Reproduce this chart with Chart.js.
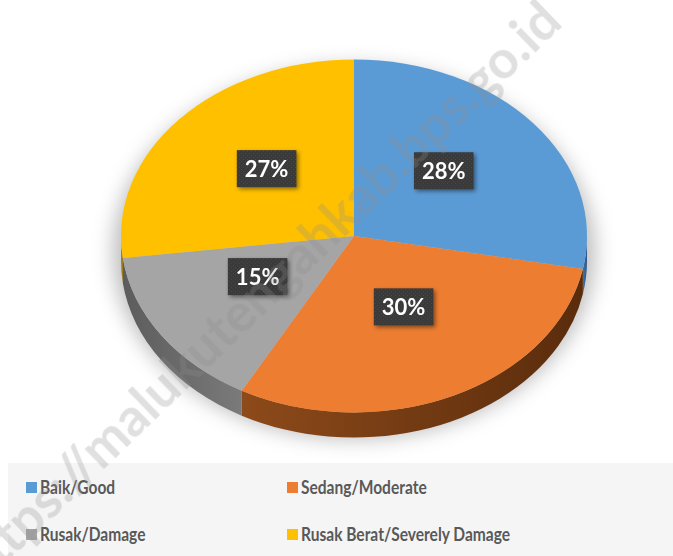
<!DOCTYPE html>
<html>
<head>
<meta charset="utf-8">
<script src="https://cdn.jsdelivr.net/npm/chart.js@4.4.1/dist/chart.umd.min.js"></script>
<style>
  html, body { margin: 0; padding: 0; background: #ffffff; }
  #wrap { position: relative; width: 673px; height: 556px; overflow: hidden; }
  #legend {
    position: absolute; left: 8px; top: 463px; width: 665px; height: 93px;
    background: #f5f5f5;
    font-family: Lato, "Open Sans", sans-serif; font-weight: 700; font-size: 18.5px; color: #595959;
  }
  .item { position: absolute; white-space: nowrap; line-height: 22px; }
  .item i { display: inline-block; width: 11px; height: 11px; margin-right: 3px; vertical-align: 1px; }
  .item span { display: inline-block; transform: scaleX(0.84); transform-origin: 0 50%; }
  #mark {
    position: absolute; left: 258px; top: 292px; white-space: nowrap; pointer-events: none;
    transform: translate(-50%, -50%) rotate(-44deg);
    font-family: Lato, sans-serif; font-weight: 700; font-size: 53px; color: rgba(140,140,140,0.27);
  }
</style>
</head>
<body>
<div id="wrap">
  <canvas id="myChart" width="673" height="556"></canvas>
  <div id="legend"></div>
  <div id="mark">https://malukutengahkab.bps.go.id</div>
</div>
<script>
const labels = ['Baik/Good', 'Sedang/Moderate', 'Rusak/Damage', 'Rusak Berat/Severely Damage'];
const values = [28, 30, 15, 27];
const colors = ['#5b9bd5', '#ed7d31', '#a5a5a5', '#ffc000'];
const sideLight = ['#3f74a6', '#8d4a1a', '#7a7a7a', '#b58a00'];
const sideDark = ['#2c5682', '#5a2c0c', '#5c5c5c', '#8a6900'];

const tilt = 0.7575;   // vertical squash of the pie
const depth = 25;      // thickness of the pie in px

// legend as html, two columns
const legendPos = [[18, 13], [279, 13], [18, 60], [279, 60]];
const legendEl = document.getElementById('legend');
labels.forEach((l, i) => {
    const d = document.createElement('div');
    d.className = 'item';
    d.style.left = legendPos[i][0] + 'px';
    d.style.top = legendPos[i][1] + 'px';
    d.innerHTML = '<i style="background:' + colors[i] + '"></i><span>' + l + '</span>';
    legendEl.appendChild(d);
});

// dotted dark fill for the value boxes
const pat = document.createElement('canvas');
pat.width = 4; pat.height = 4;
const pctx = pat.getContext('2d');
pctx.fillStyle = '#3a3a3a'; pctx.fillRect(0, 0, 4, 4);
pctx.fillStyle = '#474747'; pctx.fillRect(1, 1, 1, 1); pctx.fillRect(3, 3, 1, 1);

const pie3d = {
    id: 'pie3d',
    beforeDatasetsDraw(chart) {
        const ctx = chart.ctx;
        const arcs = chart.getDatasetMeta(0).data;
        const cx = arcs[0].x, cy = arcs[0].y, R = arcs[0].outerRadius, r = R * tilt;

        // soft shadow
        ctx.save();
        ctx.filter = 'blur(10px)';
        ctx.fillStyle = 'rgba(0,0,0,0.26)';
        ctx.beginPath();
        ctx.ellipse(cx, cy + depth / 2 + 4, R + 8, r + 10, 0, 0, Math.PI * 2);
        ctx.fill();
        ctx.restore();

        // side walls, only the front half shows
        arcs.forEach((a, i) => {
            let s = Math.max(a.startAngle, 0), e = Math.min(a.endAngle, Math.PI);
            if (a.startAngle > Math.PI) { s = Math.max(a.startAngle - 2 * Math.PI, 0); e = Math.min(a.endAngle - 2 * Math.PI, Math.PI); }
            if (e <= s) return;
            const x0 = cx + R * Math.cos(e), x1 = cx + R * Math.cos(s);
            const g = ctx.createLinearGradient(Math.min(x0, x1), 0, Math.max(x0, x1), 0);
            if (i === 2) { g.addColorStop(0, sideDark[i]); g.addColorStop(1, sideLight[i]); }
            else { g.addColorStop(0, sideLight[i]); g.addColorStop(1, sideDark[i]); }
            ctx.save();
            ctx.fillStyle = g;
            ctx.beginPath();
            ctx.ellipse(cx, cy, R, r, 0, s, e);
            ctx.ellipse(cx, cy + depth, R, r, 0, e, s, true);
            ctx.closePath();
            ctx.fill();
            ctx.restore();
        });

        ctx.save();
        ctx.translate(cx, cy);
        ctx.scale(1, tilt);
        ctx.translate(-cx, -cy);
    },
    afterDatasetsDraw(chart) {
        const ctx = chart.ctx;
        ctx.restore();
        const arcs = chart.getDatasetMeta(0).data;
        ctx.save();
        ctx.font = '700 22px Lato, "Open Sans", sans-serif';
        ctx.textAlign = 'center';
        ctx.textBaseline = 'middle';
        arcs.forEach((a, i) => {
            const p = a.tooltipPosition();
            const x = p.x, y = a.y + (p.y - a.y) * tilt - 9;
            const txt = values[i] + '%';
            const w = ctx.measureText(txt).width + 16, h = 37;
            ctx.save();
            ctx.shadowColor = 'rgba(0,0,0,0.45)';
            ctx.shadowBlur = 4;
            ctx.shadowOffsetX = 2;
            ctx.shadowOffsetY = 2;
            ctx.fillStyle = ctx.createPattern(pat, 'repeat');
            ctx.fillRect(x - w / 2, y - h / 2, w, h);
            ctx.restore();
            ctx.fillStyle = '#ffffff';
            ctx.fillText(txt, x, y + 1);
        });
        ctx.restore();
    }
};

new Chart(document.getElementById('myChart'), {
    type: 'pie',
    data: {
        labels: labels,
        datasets: [{
            data: values,
            backgroundColor: colors,
            borderWidth: 0,
            hoverOffset: 0
        }]
    },
    options: {
        responsive: false,
        animation: false,
        events: [],
        layout: { padding: { left: 121, right: 86, top: 3, bottom: 87 } },
        plugins: {
            legend: { display: false },
            tooltip: { enabled: false }
        }
    },
    plugins: [pie3d]
});
</script>
</body>
</html>
